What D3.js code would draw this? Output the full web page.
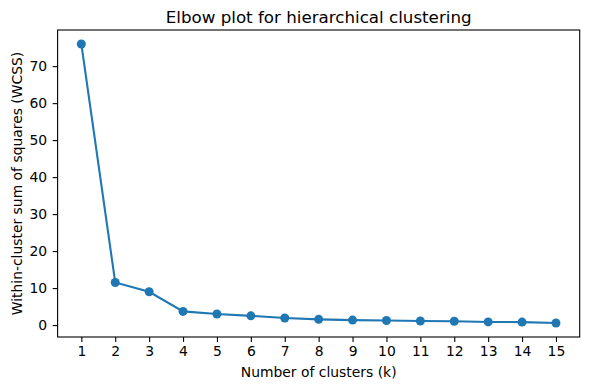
<!DOCTYPE html>
<html>
<head>
<meta charset="utf-8">
<script src="https://cdn.jsdelivr.net/npm/d3@7"></script>
<style>
  body { margin: 0; background: #fff; }
  text { font-family: "DejaVu Sans", sans-serif; fill: #000; }
</style>
</head>
<body>
<div id="chart"></div>
<script>
// Data
let clusters = [1, 2, 3, 4, 5, 6, 7, 8, 9, 10, 11, 12, 13, 14, 15];
let wcss = [76.0, 11.5, 9.0, 3.7, 3.0, 2.5, 1.9, 1.55, 1.35, 1.25, 1.1, 1.05, 0.85, 0.8, 0.55];
let yTicks = [0, 10, 20, 30, 40, 50, 60, 70];

let svgWidth = 590;
let svgHeight = 390;
let margin = { top: 30, right: 10, bottom: 53, left: 57.6 };
let chartWidth = 579.7 - margin.left;
let chartHeight = 337 - margin.top;

let svg = d3.select("#chart")
    .append("svg")
    .attr("width", svgWidth)
    .attr("height", svgHeight);

let chartGroup = svg.append("g")
    .attr("transform", `translate(${margin.left}, ${margin.top})`);

// matplotlib style 5% padding
let xScale = d3.scaleLinear()
    .domain([0.3, 15.7])
    .range([0, chartWidth]);

let yMin = d3.min(wcss), yMax = d3.max(wcss);
let pad = (yMax - yMin) * 0.05;
let yScale = d3.scaleLinear()
    .domain([yMin - pad, yMax + pad])
    .range([chartHeight, 0]);

let xAxis = d3.axisBottom(xScale).tickValues(clusters).tickFormat(d3.format("d")).tickSize(4.9).tickPadding(4.6);
let yAxis = d3.axisLeft(yScale).tickValues(yTicks).tickSize(4.9).tickPadding(5.5);

let gx = chartGroup.append("g")
    .attr("transform", `translate(0, ${chartHeight})`)
    .call(xAxis);
let gy = chartGroup.append("g")
    .call(yAxis);

[gx, gy].forEach(g => {
    g.select(".domain").remove();
    g.selectAll("text").attr("font-size", "13.9px").attr("font-family", "DejaVu Sans");
    g.selectAll("line").attr("stroke", "#000").attr("stroke-width", 1.1);
});

// frame
chartGroup.append("rect")
    .attr("x", 0).attr("y", 0)
    .attr("width", chartWidth).attr("height", chartHeight)
    .attr("fill", "none")
    .attr("stroke", "#000")
    .attr("stroke-width", 1.1);

let line = d3.line()
    .x((d, i) => xScale(clusters[i]))
    .y(d => yScale(d));

chartGroup.append("path")
    .datum(wcss)
    .attr("d", line)
    .attr("fill", "none")
    .attr("stroke", "#1f77b4")
    .attr("stroke-width", 2.1);

chartGroup.selectAll("circle")
    .data(wcss)
    .enter()
    .append("circle")
    .attr("cx", (d, i) => xScale(clusters[i]))
    .attr("cy", d => yScale(d))
    .attr("r", 4.5)
    .attr("fill", "#1f77b4");

// title & labels
svg.append("text")
    .attr("x", margin.left + chartWidth / 2)
    .attr("y", 23)
    .attr("text-anchor", "middle")
    .attr("font-size", "16.7px")
    .text("Elbow plot for hierarchical clustering");

svg.append("text")
    .attr("x", margin.left + chartWidth / 2)
    .attr("y", 376.5)
    .attr("text-anchor", "middle")
    .attr("font-size", "13.9px")
    .text("Number of clusters (k)");

svg.append("text")
    .attr("transform", `translate(21.5, ${margin.top + chartHeight / 2}) rotate(-90)`)
    .attr("text-anchor", "middle")
    .attr("font-size", "13.9px")
    .text("Within-cluster sum of squares (WCSS)");
</script>
</body>
</html>
